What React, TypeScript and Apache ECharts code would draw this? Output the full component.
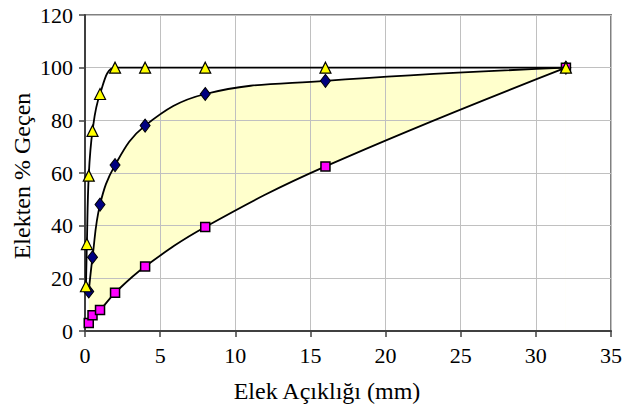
import React, { useEffect, useRef } from "react";
import * as echarts from "echarts";

// Sieve openings (mm) and % passing
const upperLimitX = [0.063, 0.125, 0.25, 0.5, 1, 2, 4, 8, 16, 32];
const upperLimitY = [17, 33, 59, 76, 90, 100, 100, 100, 100, 100];

const midX = [0.25, 0.5, 1, 2, 4, 8, 16, 32];
const midY = [15, 28, 48, 63, 78, 90, 95, 100];

const lowerX = [0.25, 0.5, 1, 2, 4, 8, 16, 32];
const lowerY = [3, 6, 8, 14.5, 24.5, 39.5, 62.5, 100];

const xTitle = "Elek Açıklığı (mm)";
const yTitle = "Elekten % Geçen";

const pairs = (xs: number[], ys: number[]) => xs.map((x, i) => [x, ys[i]]);

const FONT = "Liberation Serif";

export default function App() {
  const ref = useRef<HTMLDivElement>(null);
  useEffect(() => {
    document.body.style.margin = "0";
    if (!ref.current) return;
    const chart = echarts.init(ref.current, undefined, { renderer: "svg" });
    const SMOOTH = 0.4;
    const lineCommon = {
      type: "line" as const,
      smooth: SMOOTH,
      lineStyle: { color: "#000", width: 1.8 },
      symbol: "circle",
    };
    chart.setOption({
      animation: false,
      textStyle: { fontFamily: FONT },
      grid: {
        left: 85,
        top: 15,
        right: 13,
        bottom: 81,
        show: true,
        borderColor: "#808080",
        borderWidth: 2,
        backgroundColor: "#fff",
      },
      xAxis: {
        type: "value",
        min: 0,
        max: 35,
        interval: 5,
        z: 1.5,
        axisLine: { show: true, onZero: false, lineStyle: { color: "#404040", width: 2 } },
        axisTick: { show: true, length: 6, lineStyle: { color: "#404040", width: 1.5 } },
        axisLabel: { color: "#000", fontFamily: FONT, fontSize: 22, margin: 13 },
        splitLine: { show: true, lineStyle: { color: "#c0c0c0", width: 1 } },
      },
      yAxis: {
        type: "value",
        min: 0,
        max: 120,
        interval: 20,
        z: 1.5,
        axisLine: { show: true, lineStyle: { color: "#404040", width: 2 } },
        axisTick: { show: true, length: 6, lineStyle: { color: "#404040", width: 1.5 } },
        axisLabel: { color: "#000", fontFamily: FONT, fontSize: 22, margin: 12 },
        splitLine: { show: true, lineStyle: { color: "#c0c0c0", width: 1 } },
      },
      graphic: [
        {
          type: "text",
          x: 327,
          y: 391,
          style: {
            text: xTitle,
            fontFamily: FONT,
            fontSize: 24,
            fill: "#000",
            align: "center",
            verticalAlign: "middle",
          },
        },
        {
          type: "text",
          x: 22,
          y: 176,
          rotation: Math.PI / 2,
          style: {
            text: yTitle,
            fontFamily: FONT,
            fontSize: 24,
            fill: "#000",
            align: "center",
            verticalAlign: "middle",
          },
        },
      ],
      series: [
        {
          type: "line",
          smooth: SMOOTH,
          data: pairs(midX, midY),
          showSymbol: false,
          lineStyle: { width: 0, opacity: 0 },
          areaStyle: { color: "#FFFFCC", opacity: 1 },
          z: 1,
          silent: true,
        },
        {
          type: "line",
          smooth: SMOOTH,
          data: pairs(lowerX, lowerY),
          showSymbol: false,
          lineStyle: { width: 0, opacity: 0 },
          areaStyle: { color: "#FFFFFF", opacity: 1 },
          z: 1.1,
          silent: true,
        },
        {
          ...lineCommon,
          data: pairs(midX, midY),
          symbol: "diamond",
          symbolSize: [10, 13],
          itemStyle: { color: "#000080", borderColor: "#000", borderWidth: 1 },
          z: 3,
        },
        {
          ...lineCommon,
          data: pairs(lowerX, lowerY),
          symbol: "rect",
          symbolSize: 9,
          itemStyle: { color: "#FF00FF", borderColor: "#000", borderWidth: 1.5 },
          z: 4,
        },
        {
          ...lineCommon,
          data: pairs(upperLimitX, upperLimitY),
          symbol: "triangle",
          symbolSize: [11, 11],
          itemStyle: { color: "#FFFF00", borderColor: "#000", borderWidth: 1.2 },
          z: 5,
        },
      ],
    });
    return () => chart.dispose();
  }, []);
  return <div ref={ref} style={{ width: 625, height: 412 }} />;
}
